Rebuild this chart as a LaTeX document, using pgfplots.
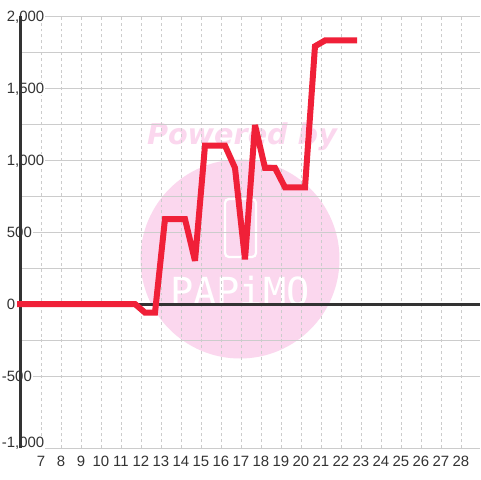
\documentclass[border=0pt]{standalone}
\usepackage{pgfplots}
\pgfplotsset{compat=1.18}
\usepackage{fontspec}
\setmainfont{Liberation Sans}
\newfontfamily\wmfont{DejaVu Sans}
\newfontfamily\logofont{DejaVu Sans Mono}
\definecolor{tx}{HTML}{333333}
\definecolor{gr}{HTML}{CCCCCC}
\definecolor{rd}{HTML}{F02038}
\definecolor{wm}{HTML}{FBD7EE}
\protected\def\negk{\llap{-}1,000}
\begin{document}
\begin{tikzpicture}[x=0.75pt,y=0.75pt]
\useasboundingbox (0,0) rectangle (480,480);
\fill[white] (0,0) rectangle (480,480);
\fill[wm] (240,221) circle (99.5);
\node[text=wm,font=\fontsize{21.5}{22}\selectfont\wmfont\bfseries\itshape,inner sep=0] at (242,343) {Powered by};
\draw[white,line width=1.7pt,rounded corners=3pt] (225,281) rectangle (256,223);
\node[text=white,font=\fontsize{29}{29}\selectfont\logofont,inner sep=0,anchor=base] at (240,175) {PAPiMO};
\begin{axis}[
  at={(15pt,24pt)},anchor=south west,
  scale only axis,width=345pt,height=324pt,
  xmin=5.95,xmax=28.95,ymin=-1000,ymax=2000,
  clip=false,
  axis line style={draw=none},
  tick style={draw=none},
  xtick={7,...,28},
  /pgf/number format/assume math mode=true,
  ytick={-500,0,500,1000,1500,2000},
  yticklabels={\llap{-}500,0,500,{1,000},{1,500},{2,000}},
  extra y ticks={-1000},
  extra y tick labels={\negk},
  extra y tick style={yticklabel style={yshift=4.5pt}},
  minor y tick num=1,
  ymajorgrids,yminorgrids,xmajorgrids,
  y grid style={gr,line width=0.75pt},
  minor y grid style={gr,line width=0.75pt},
  x grid style={gr,line width=0.75pt,dash pattern=on 2.2pt off 2.2pt},
  ticklabel style={text=tx,font=\fontsize{11.2}{11.2}\selectfont},
  yticklabel style={anchor=west,xshift=-10.5pt,yshift=-0.7pt,fill=white,inner xsep=0.5pt,inner ysep=0pt,text height=8.5pt,text depth=1.2pt},
  xticklabel style={yshift=-2.5pt},
]
\draw[tx,line width=2.25pt] (axis cs:5.95,0) -- (axis cs:28.95,0);
\draw[tx,line width=2.25pt] (axis cs:5.975,-1000) -- (axis cs:5.975,2000);
\addplot[rd,line width=4.5pt,miter limit=4] coordinates {
(5.8,0)(11.7,0)(12.2,-60)(12.7,-60)(13.2,590)(14.2,590)(14.7,300)(15.2,1100)(16.2,1100)(16.7,945)(17.2,310)(17.7,1243)(18.2,945)(18.7,945)(19.2,810)(20.2,810)(20.7,1790)(21.2,1830)(22.8,1830)};
\end{axis}
\end{tikzpicture}
\end{document}
